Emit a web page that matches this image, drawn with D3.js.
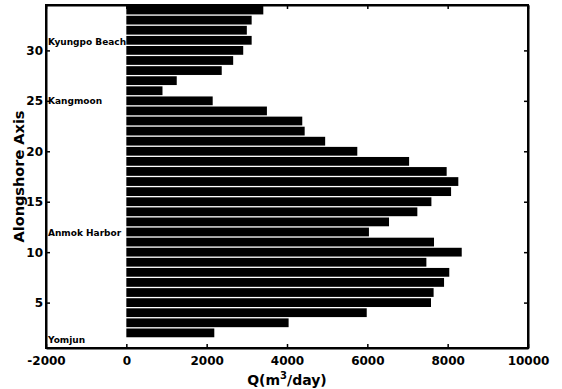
<!DOCTYPE html>
<html><head><meta charset="utf-8">
<script src="https://cdn.jsdelivr.net/npm/d3@7"></script>
<style>body{margin:0;background:#fff;} svg{display:block;}</style>
</head><body>
<script>
// Data
const positions = [34,33,32,31,30,29,28,27,26,25,24,23,22,21,20,19,18,17,16,15,14,13,12,11,10,9,8,7,6,5,4,3,2];
const qValues   = [3410,3120,3000,3120,2910,2660,2375,1255,900,2150,3500,4380,4440,4950,5750,7040,7975,8265,8085,7595,7245,6540,6040,7660,8350,7470,8040,7910,7650,7585,5985,4040,2190];
const xTicks = [-2000,0,2000,4000,6000,8000,10000];
const yTicks = [5,10,15,20,25,30];
const places = ["Kyungpo Beach","Kangmoon","Anmok Harbor","Yomjun"];
const placeY = [30.8,25,11.9,1.3];

const W=562,H=389;
const m={left:46,right:34,top:5,bottom:41};
const svg=d3.select("body").append("svg").attr("width",W).attr("height",H);
const x=d3.scaleLinear().domain([-2000,10000]).range([m.left,W-m.right]);
const y=d3.scaleLinear().domain([0.5,34.5]).range([H-m.bottom,m.top]);
const bh=(y(0)-y(1))*0.87;
const font="'DejaVu Sans', Verdana, sans-serif";

svg.append("g").selectAll("rect").data(positions).join("rect")
  .attr("x",x(0)).attr("y",(d)=>y(d)-bh/2)
  .attr("width",(d,i)=>x(qValues[i])-x(0)).attr("height",bh).attr("fill","#000");

// axes
const tl=4;
const gb=svg.append("g").attr("transform",`translate(0,${H-m.bottom})`)
  .call(d3.axisBottom(x).tickValues(xTicks).tickSizeInner(-tl).tickSizeOuter(0).tickPadding(6).tickFormat(d=>String(d)));
const gt=svg.append("g").attr("transform",`translate(0,${m.top})`)
  .call(d3.axisTop(x).tickValues(xTicks).tickSizeInner(-tl).tickSizeOuter(0).tickFormat(""));
const gl=svg.append("g").attr("transform",`translate(${m.left},0)`)
  .call(d3.axisLeft(y).tickValues(yTicks).tickSizeInner(-tl).tickSizeOuter(0).tickPadding(3));
const gr=svg.append("g").attr("transform",`translate(${W-m.right},0)`)
  .call(d3.axisRight(y).tickValues(yTicks).tickSizeInner(-tl).tickSizeOuter(0).tickFormat(""));
[gb,gt,gl,gr].forEach(g=>{
  g.selectAll(".domain").attr("stroke","#000").attr("stroke-width",2);
  g.selectAll(".tick line").attr("stroke","#000").attr("stroke-width",1.5);
  g.selectAll("text").attr("font-family",font).attr("font-weight","bold").attr("font-size",12).attr("fill","#000");
});
gb.selectAll("text").attr("dy","0.9em");
// close corners
svg.append("rect").attr("x",m.left).attr("y",m.top).attr("width",W-m.left-m.right).attr("height",H-m.top-m.bottom)
  .attr("fill","none").attr("stroke","#000").attr("stroke-width",2);

// place labels
svg.append("g").selectAll("text").data(places).join("text")
  .attr("x",m.left+2).attr("y",(d,i)=>y(placeY[i])).attr("dy","0.35em")
  .attr("font-family",font).attr("font-weight","bold").attr("font-size",9).text(d=>d);

// axis titles
const xt=svg.append("text").attr("x",x(4000)).attr("y",H-4).attr("text-anchor","middle")
  .attr("font-family",font).attr("font-weight","bold").attr("font-size",14);
xt.append("tspan").text("Q(m");
xt.append("tspan").attr("dy",-6).attr("font-size",10).text("3");
xt.append("tspan").attr("dy",6).text("/day)");
svg.append("text").attr("transform",`translate(24,${(m.top+H-m.bottom)/2}) rotate(-90)`)
  .attr("text-anchor","middle").attr("font-family",font).attr("font-weight","bold").attr("font-size",14.5)
  .text("Alongshore Axis");
</script>
</body></html>
